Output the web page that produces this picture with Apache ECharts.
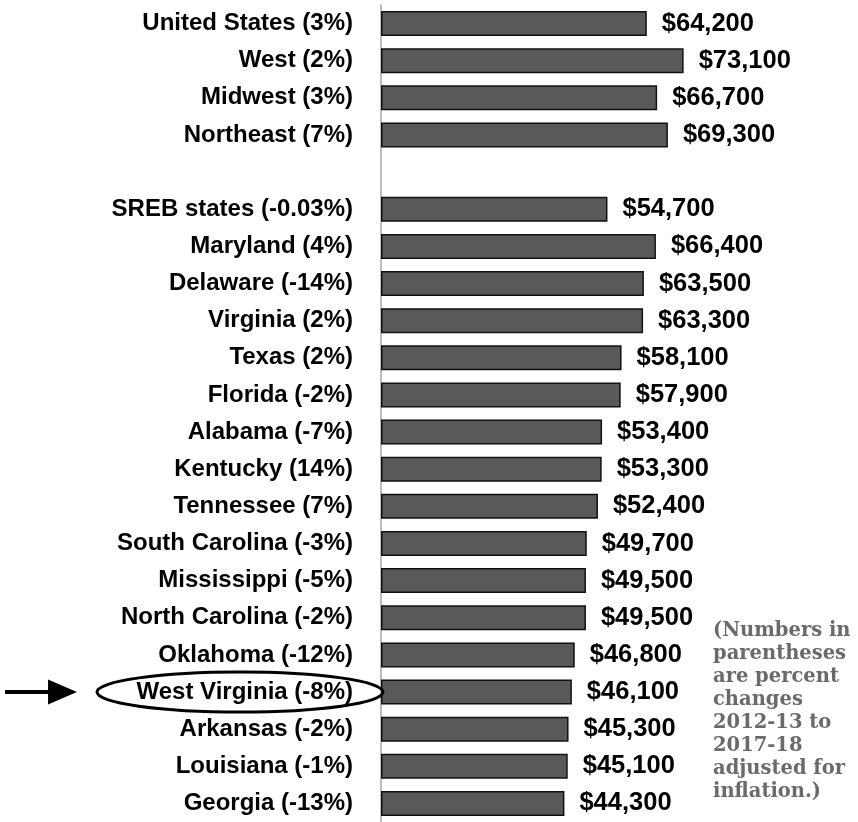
<!DOCTYPE html>
<html>
<head>
<meta charset="utf-8">
<script src="https://cdn.jsdelivr.net/npm/echarts@6/dist/echarts.min.js"></script>
<style>
  html, body { margin: 0; padding: 0; background: #fff; }
  #chart { width: 858px; height: 822px; }
</style>
</head>
<body>
<div id="chart"></div>
<script>
// Average salaries, top to bottom; the empty entry is a spacer row
const names = ['United States', 'West', 'Midwest', 'Northeast', '',
  'SREB states', 'Maryland', 'Delaware', 'Virginia', 'Texas', 'Florida',
  'Alabama', 'Kentucky', 'Tennessee', 'South Carolina', 'Mississippi',
  'North Carolina', 'Oklahoma', 'West Virginia', 'Arkansas', 'Louisiana', 'Georgia'];
const changes = ['3%', '2%', '3%', '7%', '',
  '-0.03%', '4%', '-14%', '2%', '2%', '-2%',
  '-7%', '14%', '7%', '-3%', '-5%',
  '-2%', '-12%', '-8%', '-2%', '-1%', '-13%'];
const salaries = [64200, 73100, 66700, 69300, null,
  54700, 66400, 63500, 63300, 58100, 57900,
  53400, 53300, 52400, 49700, 49500,
  49500, 46800, 46100, 45300, 45100, 44300];
const highlighted = 'West Virginia';
const noteLines = ['(Numbers in', 'parentheses', 'are percent', 'changes',
  '2012-13 to', '2017-18', 'adjusted for', 'inflation.)'];

const categories = names.map((n, i) => n ? n + ' (' + changes[i] + ')' : ' ');

function money(v) {
  return '$' + String(v).replace(/\B(?=(\d{3})+(?!\d))/g, ',');
}

const chart = echarts.init(document.getElementById('chart'));
chart.setOption({
  animation: false,
  grid: { left: 381, top: 5, bottom: 0, width: 414 },
  xAxis: {
    type: 'value', min: 0, max: 100000, show: false
  },
  yAxis: {
    type: 'category',
    data: categories,
    inverse: true,
    axisLine: { lineStyle: { color: '#a6a6a6', width: 1.5 } },
    axisTick: { length: 8, lineStyle: { color: '#a6a6a6', width: 1.5 } },
    axisLabel: {
      margin: 28,
      fontFamily: 'Liberation Sans, Arial, sans-serif',
      fontWeight: 'bold',
      fontSize: 24,
      color: '#000'
    }
  },
  series: [{
    type: 'bar',
    data: salaries,
    barWidth: 25,
    itemStyle: { color: '#595959', borderColor: '#111', borderWidth: 1.5 },
    label: {
      show: true,
      position: 'right',
      distance: 15,
      formatter: p => p.value == null ? '' : money(p.value),
      fontFamily: 'Liberation Sans, Arial, sans-serif',
      fontWeight: 'bold',
      fontSize: 25.5,
      color: '#000'
    }
  }]
});

// Callout: ellipse round the highlighted label, arrow pointing at it, side note
const hlIndex = names.indexOf(highlighted);
const cy = chart.convertToPixel({ yAxisIndex: 0 }, categories[hlIndex]);
const axisX = chart.convertToPixel({ xAxisIndex: 0 }, 0);
chart.setOption({
  graphic: [
    {
      type: 'ellipse',
      shape: { cx: axisX - 141, cy: cy, rx: 143, ry: 20 },
      style: { fill: 'none', stroke: '#000', lineWidth: 3 },
      z: 10
    },
    {
      type: 'line',
      shape: { x1: 5, y1: cy, x2: 52, y2: cy },
      style: { stroke: '#000', lineWidth: 4 }
    },
    {
      type: 'polygon',
      shape: { points: [[48, cy - 12.5], [77, cy], [48, cy + 12.5]] },
      style: { fill: '#000' }
    },
    {
      type: 'text',
      left: 713,
      top: 619,
      style: {
        text: noteLines.join('\n'),
        font: 'bold 19.5px "DejaVu Serif", "Liberation Serif", serif',
        lineHeight: 23,
        fill: '#6a6a6a'
      }
    }
  ]
});
</script>
</body>
</html>
